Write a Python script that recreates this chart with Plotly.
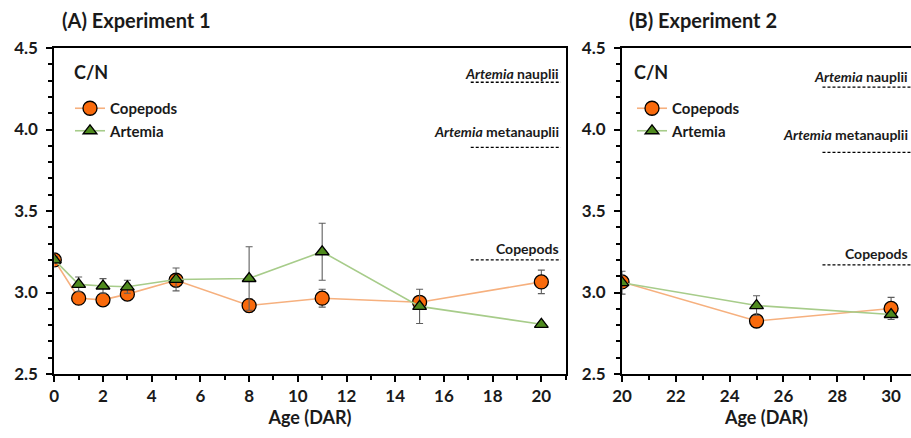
import plotly.graph_objects as go

# ---------------- data ----------------
# Experiment 1
age1 = [0, 1, 2, 3, 5, 8, 11, 15, 20]
cop1 = [3.20, 2.965, 2.955, 2.99, 3.075, 2.92, 2.965, 2.94, 3.065]
cop1_err = [0.0, 0.02, 0.02, 0.02, 0.03, 0.04, 0.055, 0.02, 0.072]
art1 = [3.20, 3.05, 3.04, 3.035, 3.08, 3.086, 3.25, 2.915, 2.805]
art1_err = [0.02, 0.045, 0.045, 0.04, 0.07, 0.195, 0.175, 0.105, 0.01]

# Experiment 2
age2 = [20, 25, 30]
cop2 = [3.065, 2.825, 2.902]
cop2_err = [0.02, 0.02, 0.068]
art2 = [3.06, 2.92, 2.865]
art2_err = [0.07, 0.06, 0.01]

# Reference C/N levels of the prey (dashed lines)
ref_names = ["<i>Artemia</i> nauplii", "<i>Artemia</i> metanauplii", "Copepods"]
ref1 = [4.29, 3.89, 3.20]
ref2 = [4.26, 3.86, 3.17]
ref1_span = [17.1, 20.8]
ref2_span = [27.45, 31.0]

# ---------------- style ----------------
FONT = "Lato"
COP_FILL = "#F96A0C"
COP_LINE = "#F6B07E"
ART_FILL = "#4F8A1E"
ART_LINE = "#A7CC8A"
ERR_COL = "#5E5E5E"
TXT = "#1a1a1a"

fig = go.Figure()


def add_series(x, y, err, name, xa, ya, fill, line, symbol, size, legend, show):
    fig.add_trace(go.Scatter(
        x=x, y=y, name=name, mode="lines+markers",
        xaxis=xa, yaxis=ya, legend=legend, showlegend=show,
        line=dict(color=line, width=1.6),
        marker=dict(symbol=symbol, size=size, color=fill,
                    line=dict(color="black", width=1.3)),
        error_y=dict(type="data", array=err, visible=True,
                     color=ERR_COL, thickness=1.1, width=3.5),
    ))


add_series(age1, cop1, cop1_err, "Copepods", "x", "y", COP_FILL, COP_LINE, "circle", 14, "legend", True)
add_series(age1, art1, art1_err, "Artemia", "x", "y", ART_FILL, ART_LINE, "triangle-up", 12, "legend", True)
add_series(age2, cop2, cop2_err, "Copepods", "x2", "y2", COP_FILL, COP_LINE, "circle", 14, "legend2", True)
add_series(age2, art2, art2_err, "Artemia", "x2", "y2", ART_FILL, ART_LINE, "triangle-up", 12, "legend2", True)

shapes = []
annotations = []
gaps = [9, 16, 11]
gaps2 = [11, 18, 11]
for name, v, g in zip(ref_names, ref1, gaps):
    shapes.append(dict(type="line", xref="x", yref="y", x0=ref1_span[0], x1=ref1_span[1],
                       y0=v, y1=v, line=dict(color="black", width=1.3, dash="3px,2px")))
    annotations.append(dict(xref="x", yref="y", x=ref1_span[1], y=v, yshift=g,
                            xanchor="right", yanchor="middle", showarrow=False, text=name,
                            font=dict(family=FONT, size=14, color=TXT, weight="bold")))
for name, v, g in zip(ref_names, ref2, gaps2):
    shapes.append(dict(type="line", xref="x2", yref="y2", x0=ref2_span[0], x1=ref2_span[1],
                       y0=v, y1=v, line=dict(color="black", width=1.3, dash="3px,2px")))
    annotations.append(dict(xref="x2", yref="y2", x=30.7, y=v, yshift=g,
                            xanchor="right", yanchor="middle", showarrow=False, text=name,
                            font=dict(family=FONT, size=14, color=TXT, weight="bold")))

# panel titles and C/N labels
annotations += [
    dict(xref="paper", yref="paper", x=60 / 911, y=1 - 20 / 438, xanchor="left", yanchor="middle",
         text="(A) Experiment 1", showarrow=False,
         font=dict(family=FONT, size=20, color=TXT, weight="bold")),
    dict(xref="paper", yref="paper", x=627 / 911, y=1 - 20 / 438, xanchor="left", yanchor="middle",
         text="(B) Experiment 2", showarrow=False,
         font=dict(family=FONT, size=20, color=TXT, weight="bold")),
    dict(xref="paper", yref="paper", x=72 / 911, y=1 - 72 / 438, xanchor="left", yanchor="middle",
         text="C/N", showarrow=False, font=dict(family=FONT, size=18, color=TXT, weight="bold")),
    dict(xref="paper", yref="paper", x=632 / 911, y=1 - 72 / 438, xanchor="left", yanchor="middle",
         text="C/N", showarrow=False, font=dict(family=FONT, size=18, color=TXT, weight="bold")),
]

tickfont = dict(family=FONT, size=17, color=TXT, weight="bold")
titlefont = dict(family=FONT, size=18, color=TXT, weight="bold")

common_x = dict(showgrid=False, zeroline=False, showline=True, linecolor="black", linewidth=2,
                mirror=True, ticks="outside", ticklen=6, tickwidth=1.5, tickcolor="black",
                dtick=2, tickfont=tickfont, ticklabelstandoff=0, automargin=False,
                minor=dict(ticks="outside", ticklen=4, tickwidth=1.5, tickcolor="black", dtick=1),
                title=dict(text="Age (DAR)", font=titlefont, standoff=6))
common_y = dict(showgrid=False, zeroline=False, showline=True, linecolor="black", linewidth=2,
                mirror=True, ticks="outside", ticklen=6, tickwidth=1.5, tickcolor="black",
                range=[2.5, 4.5], dtick=0.5, tickformat=".1f", tickfont=tickfont,
                ticklabelstandoff=5, automargin=False,
                minor=dict(ticks="outside", ticklen=4, tickwidth=1.5, tickcolor="black", dtick=0.1))

ydom = [(438 - 374) / 438, (438 - 48) / 438]

fig.update_layout(
    template="none",
    width=911, height=438,
    margin=dict(l=0, r=0, t=0, b=0, pad=0),
    paper_bgcolor="white", plot_bgcolor="white",
    font=dict(family=FONT, color=TXT),
    xaxis=dict(common_x, domain=[54.3 / 911, 565.7 / 911], range=[0, 21], anchor="y"),
    yaxis=dict(common_y, domain=ydom, anchor="x"),
    xaxis2=dict(common_x, domain=[622 / 911, 1.0], range=[20, 30.74], anchor="y2"),
    yaxis2=dict(common_y, domain=ydom, anchor="x2"),
    legend=dict(x=70 / 911, y=1 - 92 / 438, xanchor="left", yanchor="top",
                bgcolor="rgba(0,0,0,0)", borderwidth=0, itemwidth=30,
                font=dict(family=FONT, size=15, color=TXT, weight="bold"),
                tracegroupgap=0),
    legend2=dict(x=632 / 911, y=1 - 92 / 438, xanchor="left", yanchor="top",
                 bgcolor="rgba(0,0,0,0)", borderwidth=0, itemwidth=30,
                 font=dict(family=FONT, size=15, color=TXT, weight="bold"),
                 tracegroupgap=0),
    shapes=shapes,
    annotations=annotations,
)

fig.write_html("out.html")
